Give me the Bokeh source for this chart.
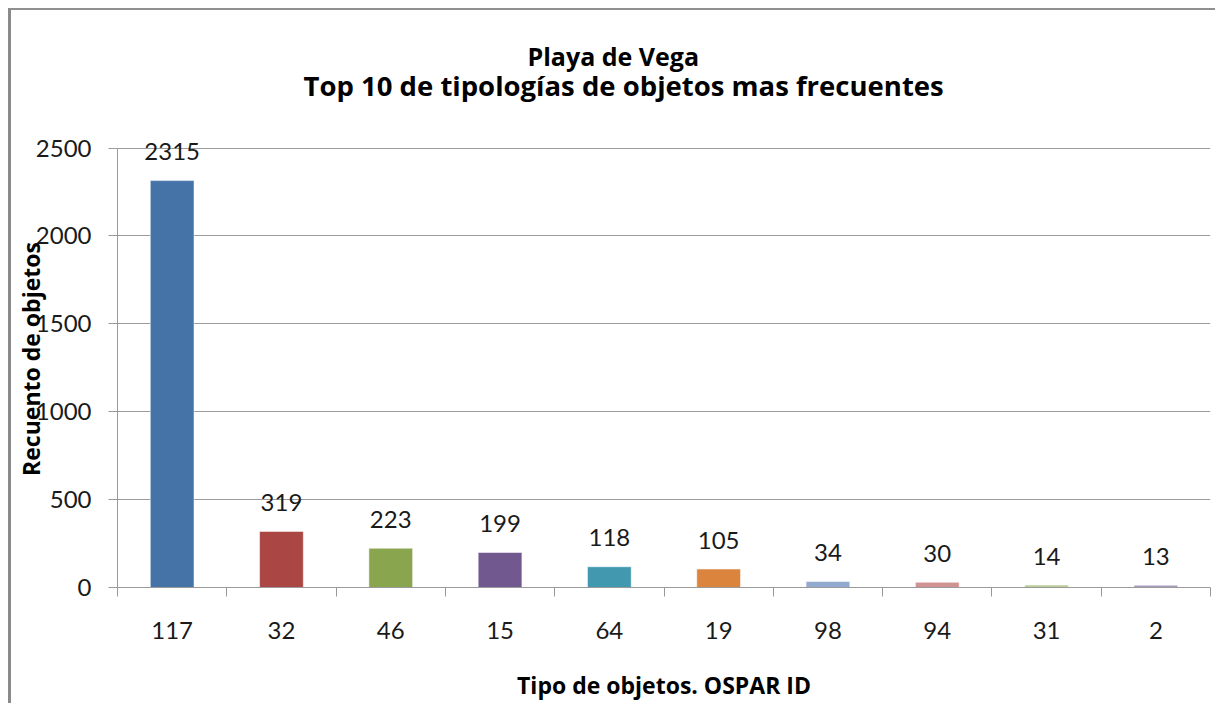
from bokeh.plotting import figure
from bokeh.models import ColumnDataSource, FixedTicker, Range1d, Title, LabelSet
from bokeh.core.properties import value
from bokeh.embed import file_html
from bokeh.resources import INLINE

title_lines = ["Playa de Vega", "Top 10 de tipologías de objetos mas frecuentes"]
categories = ["117", "32", "46", "15", "64", "19", "98", "94", "31", "2"]
values = [2315, 319, 223, 199, 118, 105, 34, 30, 14, 13]
colors = ["#4572A7", "#AA4643", "#89A54E", "#71588F", "#4198AF",
          "#DB843D", "#93A9CF", "#D19392", "#B9CD96", "#A99BBD"]
y_ticks = [0, 500, 1000, 1500, 2000, 2500]

FONT = "Lato"
BFONT = "Open Sans"
GRAY = "#9a9a9a"

xs = [i + 0.5 for i in range(len(categories))]
src = ColumnDataSource(dict(x=xs, top=values, color=colors,
                            label=[str(v) for v in values]))

p = figure(frame_width=1093, frame_height=457,
           x_range=Range1d(0, len(categories)), y_range=Range1d(0, 2600),
           output_backend="svg", toolbar_location=None,
           min_border_left=105, min_border_right=5,
           min_border_top=120, min_border_bottom=114,
           margin=(8, 0, 0, 8),
           styles={"border-left": "3px solid #8a8a8a",
                   "border-top": "2px solid #8f8f8f"})

# spacer between frame and title
p.add_layout(Title(text=" ", text_font_size="1px", standoff=24), "above")
p.add_layout(Title(text=title_lines[1], align="left", offset=186,
                   text_font=BFONT, text_font_size="27.5px",
                   text_font_style="bold", text_color="#000000", standoff=0), "above")
p.add_layout(Title(text=title_lines[0], align="left", offset=410,
                   text_font=BFONT, text_font_size="25px", text_font_style="bold",
                   text_color="#000000", standoff=-17), "above")

p.vbar(x="x", top="top", width=0.4, color="color", source=src,
       line_color="white", line_width=0.5)
labels = LabelSet(x="x", y="top", text="label", source=src, text_align="center",
                  text_baseline="middle", y_offset=29, text_font_size="24px",
                  text_font=value(FONT), text_color="#1a1a1a")
p.add_layout(labels)

# axes
p.xaxis.ticker = FixedTicker(ticks=xs, minor_ticks=list(range(len(categories) + 1)))
p.xaxis.major_label_overrides = {x: c for x, c in zip(xs, categories)}
p.xaxis.major_tick_line_color = None
p.xaxis.minor_tick_line_color = GRAY
p.xaxis.minor_tick_out = 9
p.xaxis.minor_tick_in = 0
p.xaxis.major_label_standoff = 25
p.xaxis.major_label_text_font = FONT
p.xaxis.major_label_text_font_size = "24px"
p.xaxis.major_label_text_color = "#1a1a1a"
p.xaxis.axis_label = "Tipo de objetos. OSPAR ID"
p.xaxis.axis_label_text_font = BFONT
p.xaxis.axis_label_text_font_size = "23px"
p.xaxis.axis_label_text_font_style = "bold"
p.xaxis.axis_label_text_color = "#000000"
p.xaxis.axis_label_standoff = 27
p.xaxis.axis_line_color = GRAY

p.yaxis.ticker = FixedTicker(ticks=y_ticks, minor_ticks=[])
p.yaxis.bounds = (0, 2500)
p.yaxis.major_tick_line_color = GRAY
p.yaxis.major_tick_out = 9
p.yaxis.major_tick_in = 0
p.yaxis.major_label_standoff = 17
p.yaxis.major_label_text_font = FONT
p.yaxis.major_label_text_font_size = "24px"
p.yaxis.major_label_text_color = "#1a1a1a"
p.yaxis.axis_label = "Recuento de objetos"
p.yaxis.axis_label_text_font = BFONT
p.yaxis.axis_label_text_font_size = "23px"
p.yaxis.axis_label_text_font_style = "bold"
p.yaxis.axis_label_text_color = "#000000"
p.yaxis.axis_label_standoff = -14
p.yaxis.axis_line_color = GRAY

p.xgrid.grid_line_color = None
p.ygrid.ticker = FixedTicker(ticks=y_ticks)
p.ygrid.grid_line_color = GRAY
p.outline_line_color = None

open("out.html", "w").write(file_html(p, INLINE))
